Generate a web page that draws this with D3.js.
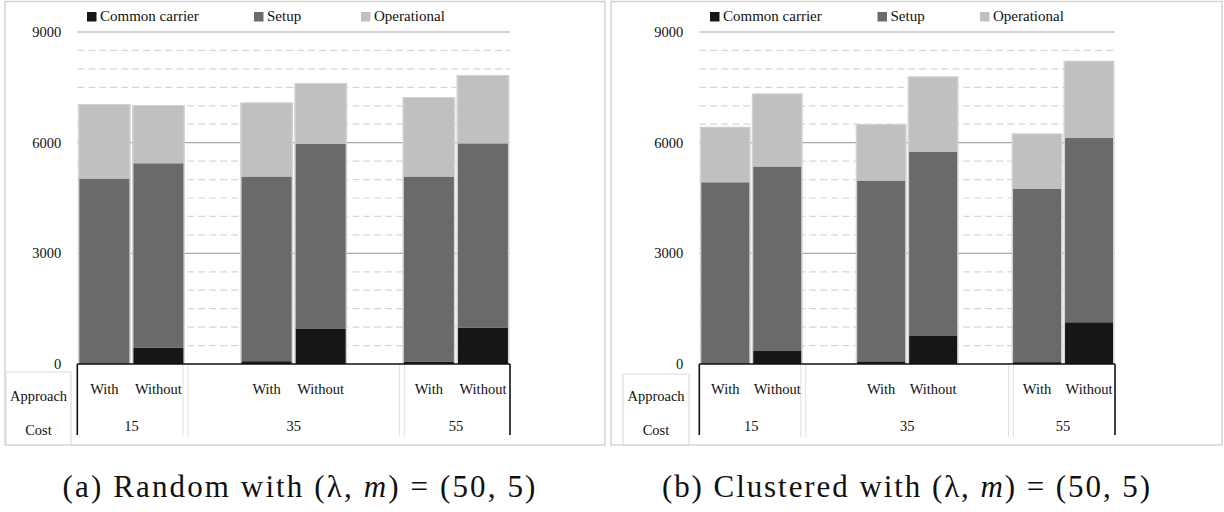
<!DOCTYPE html>
<html>
<head>
<meta charset="utf-8">
<script src="https://cdn.jsdelivr.net/npm/d3@7/dist/d3.min.js"></script>
<style>
  html, body { margin: 0; padding: 0; background: #fff; }
  svg { display: block; }
</style>
</head>
<body>
<svg id="chart" width="1224" height="512"></svg>
<script>
// Category slots along the x axis: cost groups with their approach labels
const slotCosts  = ["15", "15", "35", "35", "35", "35", "55", "55"];
const slotLabels = ["With", "Without", "", "With", "Without", "", "With", "Without"];
const costs = ["15", "35", "55"];
const seriesNames = ["Common carrier", "Setup", "Operational"];
const seriesColors = ["#161616", "#6a6a6a", "#c0c0c0"];
const yTicks = [0, 3000, 6000, 9000];

// Cost components for each bar (With/Without at cost 15, 35, 55)
const randomCommon      = [20, 442, 75, 950, 65, 985];
const randomSetup       = [5003, 4998, 5003, 5014, 5013, 4995];
const randomOperational = [1998, 1554, 1989, 1626, 2133, 1827];

const clusteredCommon      = [15, 352, 70, 759, 50, 1130];
const clusteredSetup       = [4910, 4998, 4900, 4988, 4694, 4996];
const clusteredOperational = [1481, 1961, 1509, 2025, 1482, 2069];

const svg = d3.select("#chart");
const FONT = "'Liberation Serif', 'DejaVu Serif', 'Liberation Sans', serif";

function label(sel) {
  return sel.attr("font-family", FONT).attr("fill", "#111");
}

function drawPanel(cfg) {
  const g = svg.append("g");
  const y = d3.scaleLinear().domain([0, 9000]).range([364, 32]);
  const slotKeys = slotLabels.map((l, i) => i);
  const x = d3.scaleBand().domain(slotKeys).range([cfg.x0, cfg.x1])
    .paddingInner(0.077).paddingOuter(0.0385);
  const step = x.step();

  // panel frame
  g.append("rect").attr("x", cfg.fx).attr("y", 1.5).attr("width", cfg.fw).attr("height", 443.5)
    .attr("fill", "none").attr("stroke", "#d4d4d4").attr("stroke-width", 1.5);

  // minor dashed gridlines every 500
  const minor = d3.range(500, 9000, 500).filter(v => v % 3000 !== 0);
  g.selectAll(".minor").data(minor).join("line")
    .attr("x1", cfg.x0).attr("x2", cfg.x1)
    .attr("y1", d => y(d)).attr("y2", d => y(d))
    .attr("stroke", "#d6d6d6").attr("stroke-width", 1.2).attr("stroke-dasharray", "7,4");
  // major gridlines
  g.selectAll(".major").data(yTicks.filter(v => v > 0)).join("line")
    .attr("x1", cfg.x0).attr("x2", cfg.x1)
    .attr("y1", d => y(d)).attr("y2", d => y(d))
    .attr("stroke", "#a8a8a8").attr("stroke-width", 1.2);

  // y tick labels
  label(g.selectAll(".ytick").data(yTicks).join("text"))
    .attr("x", cfg.x0 - 16).attr("y", d => y(d) + 5)
    .attr("text-anchor", "end").attr("font-size", 14.5).text(d => d);

  // bars: stack the three components
  const barSlots = slotKeys.filter(i => slotLabels[i] !== "");
  const rows = barSlots.map((s, j) => ({
    slot: s, c: cfg.common[j], s2: cfg.setup[j], o: cfg.oper[j]
  }));
  const stack = d3.stack().keys(["c", "s2", "o"])(rows);

  // soft shadow behind each bar
  g.selectAll(".shadow").data(rows).join("rect")
    .attr("x", d => x(d.slot) - 1.5).attr("width", x.bandwidth() + 3)
    .attr("y", d => y(d.c + d.s2 + d.o) - 1).attr("height", d => y(0) - y(d.c + d.s2 + d.o) + 1)
    .attr("fill", "#d2d2d2");

  stack.forEach((layer, k) => {
    g.append("g").selectAll("rect").data(layer).join("rect")
      .attr("x", d => x(d.data.slot)).attr("width", x.bandwidth())
      .attr("y", d => y(d[1])).attr("height", d => y(d[0]) - y(d[1]))
      .attr("fill", seriesColors[k]);
  });

  // category table below the axis
  const tb = 364;
  // separators between cost groups
  const bounds = [2, 6].map(i => cfg.x0 + i * step);
  bounds.forEach(b => {
    [-2.5, 2.5].forEach(o => {
      g.append("line").attr("x1", b + o).attr("x2", b + o).attr("y1", tb).attr("y2", 437)
        .attr("stroke", "#e0e0e0").attr("stroke-width", 1);
    });
  });
  // axis line and outer table edges
  g.append("line").attr("x1", cfg.x0).attr("x2", cfg.x1).attr("y1", tb).attr("y2", tb)
    .attr("stroke", "#111").attr("stroke-width", 1.6);
  [cfg.x0, cfg.x1].forEach(xx => {
    g.append("line").attr("x1", xx).attr("x2", xx).attr("y1", tb).attr("y2", 435)
      .attr("stroke", "#111").attr("stroke-width", 1.6);
  });

  // header box
  g.append("path")
    .attr("d", `M${cfg.bx0},445 L${cfg.bx0},${cfg.by} L${cfg.bx1},${cfg.by} L${cfg.bx1},445`)
    .attr("fill", "none").attr("stroke", "#dcdcdc").attr("stroke-width", 1.2);
  const bc = (cfg.bx0 + cfg.bx1) / 2;
  label(g.append("text")).attr("x", bc).attr("y", 401).attr("text-anchor", "middle")
    .attr("font-size", 14.5).text("Approach");
  label(g.append("text")).attr("x", bc).attr("y", 435).attr("text-anchor", "middle")
    .attr("font-size", 14.5).text("Cost");

  // approach labels
  label(g.selectAll(".appr").data(barSlots).join("text"))
    .attr("x", d => x(d) + x.bandwidth() / 2).attr("y", 394)
    .attr("text-anchor", "middle").attr("font-size", 14.5).text(d => slotLabels[d]);

  // cost labels centred on their slot groups
  costs.forEach(c => {
    const idx = slotKeys.filter(i => slotCosts[i] === c);
    const a = x(idx[0]) - (step - x.bandwidth()) / 2;
    const b = x(idx[idx.length - 1]) + x.bandwidth() + (step - x.bandwidth()) / 2;
    label(g.append("text")).attr("x", (a + b) / 2).attr("y", 431)
      .attr("text-anchor", "middle").attr("font-size", 14.5).text(c);
  });

  // legend
  const lg = g.selectAll(".leg").data(seriesNames).join("g")
    .attr("transform", (d, i) => `translate(${cfg.legX[i]},0)`);
  lg.append("rect").attr("x", 0).attr("y", 12).attr("width", 9.5).attr("height", 9.5)
    .attr("fill", (d, i) => seriesColors[i]);
  label(lg.append("text")).attr("x", 13).attr("y", 21).attr("font-size", 15).text(d => d);

  // caption, spread to its set width
  const cap = label(g.append("text")).attr("x", cfg.capX).attr("y", 497)
    .attr("text-anchor", "middle").attr("font-size", 31);
  cap.append("tspan").text(cfg.caption + " with (λ, ");
  cap.append("tspan").attr("font-style", "italic").text("m");
  cap.append("tspan").text(") = (50, 5)");
  const natural = cap.node().getComputedTextLength();
  const n = cap.text().length;
  const ls = Math.max(0, (cfg.capW - natural) / n);
  cap.attr("letter-spacing", ls).attr("x", cfg.capX + ls / 2);
}

drawPanel({
  x0: 77.3, x1: 510, fx: 5, fw: 600, bx0: 6, bx1: 71, by: 372,
  common: randomCommon, setup: randomSetup, oper: randomOperational,
  legX: [87, 254, 361], capX: 299, capW: 475, caption: "(a) Random"
});
drawPanel({
  x0: 699.3, x1: 1115, fx: 611, fw: 611, bx0: 623, bx1: 689, by: 374,
  common: clusteredCommon, setup: clusteredSetup, oper: clusteredOperational,
  legX: [710, 877.5, 980], capX: 906, capW: 490, caption: "(b) Clustered"
});
</script>
</body>
</html>
